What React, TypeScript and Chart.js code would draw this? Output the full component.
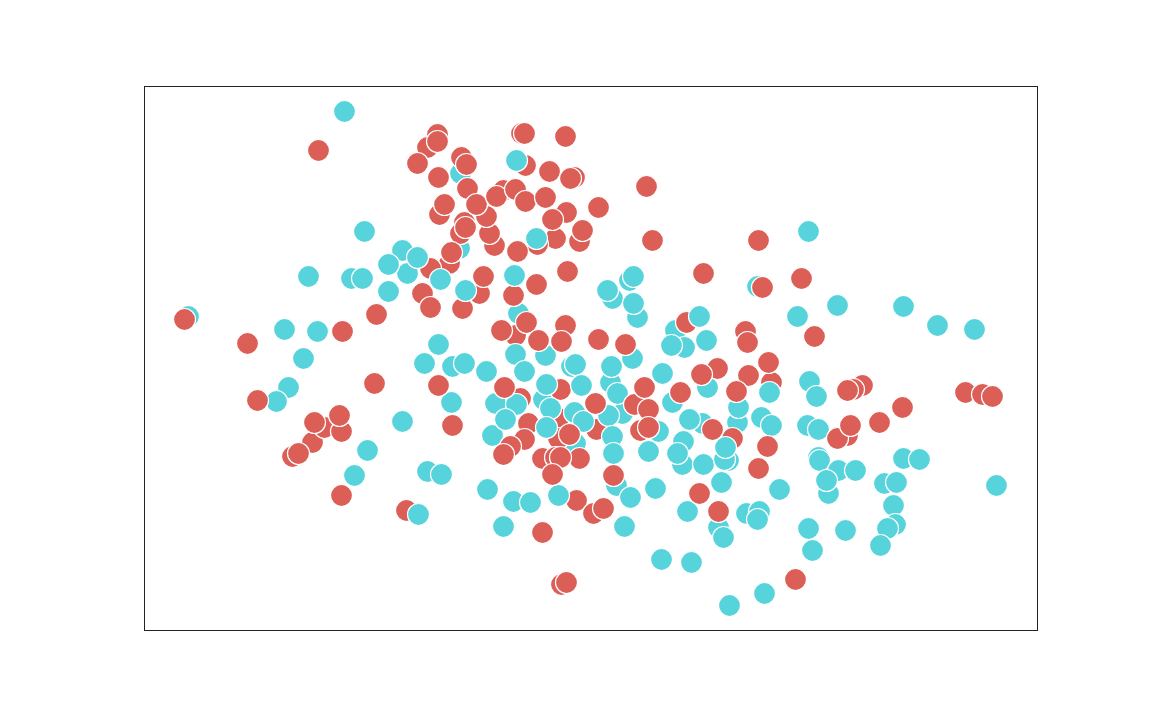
import React, { useEffect, useRef } from "react";
import { Chart, registerables } from "chart.js";

Chart.register(...registerables);

const RED = "#db5f57";
const CYAN = "#57d3db";

// Values are stacked back to front, in four layers.
const cyanBack: number[][] = [
  [188,316],[460,173],[459,248],[402,250],[407,273],[388,264],[518,313],[545,355],[632,358],[571,366],
  [610,382],[575,443],[616,485],[757,286],[718,527],[723,537],[707,387],[672,402],[737,422],[738,407],
  [675,330],[684,347],[702,423],[612,298],[629,280],[637,317],[809,381],[807,425],[818,457],[728,460],
  [746,513],[683,441],[682,464],[658,431],[543,399],[495,403],[622,413],[492,435],
];
const redBack: number[][] = [
  [437,134],[427,147],[461,157],[521,133],[525,165],[574,177],[503,190],[439,214],[566,212],[464,222],
  [460,233],[555,238],[579,241],[537,244],[449,263],[430,268],[422,293],[479,293],[513,295],[462,308],
  [515,335],[565,325],[520,398],[560,389],[528,423],[558,418],[596,429],[524,439],[558,438],[542,458],
  [555,457],[579,458],[406,510],[640,430],[745,331],[732,438],[771,382],[717,368],[862,385],[853,389],
  [847,435],[292,456],[312,442],[324,427],[341,431],[576,500],[593,513],[561,584],[686,322],
];
const cyanFront: number[][] = [
  [344,111],[364,231],[308,276],[351,278],[362,278],[388,291],[417,257],[440,279],[465,290],[284,329],
  [317,331],[303,358],[288,387],[276,401],[367,450],[354,475],[402,421],[427,471],[441,474],[418,514],
  [438,344],[424,363],[452,366],[464,363],[451,402],[516,160],[536,238],[514,275],[607,290],[633,276],
  [633,303],[515,354],[524,371],[486,371],[575,364],[611,366],[546,384],[581,385],[617,393],[516,404],
  [505,419],[550,408],[574,412],[583,421],[546,427],[608,415],[612,436],[613,453],[648,451],[630,497],
  [655,488],[487,489],[513,501],[530,502],[558,495],[503,526],[624,526],[661,559],[691,562],[729,605],
  [764,593],[662,373],[671,345],[699,316],[706,340],[769,392],[761,417],[771,425],[689,419],[677,453],
  [703,464],[724,459],[725,447],[721,482],[779,489],[687,511],[759,511],[757,519],[797,316],[837,305],
  [808,231],[903,306],[937,325],[974,329],[816,396],[818,429],[819,460],[838,470],[855,470],[828,493],
  [826,480],[808,528],[845,530],[812,550],[903,458],[919,459],[884,483],[896,482],[893,505],[895,524],
  [887,528],[880,545],[996,485],
];
const redFront: number[][] = [
  [184,319],[247,343],[257,400],[318,150],[342,331],[374,383],[376,314],[341,495],[298,453],[314,422],
  [339,415],[437,141],[417,163],[466,164],[438,177],[524,133],[565,136],[549,171],[570,178],[646,186],
  [467,188],[494,245],[489,233],[486,216],[476,204],[496,196],[515,189],[525,201],[545,197],[444,204],
  [465,227],[552,219],[598,207],[582,230],[517,251],[451,252],[652,240],[483,276],[536,284],[567,271],
  [430,307],[526,322],[501,330],[538,340],[561,341],[598,339],[625,344],[438,385],[452,425],[504,387],
  [595,403],[634,404],[644,387],[648,409],[648,427],[569,434],[510,446],[503,454],[560,457],[552,474],
  [613,475],[603,508],[542,532],[566,582],[795,579],[758,240],[703,273],[801,278],[762,287],[814,336],
  [747,342],[768,362],[748,375],[701,374],[680,392],[736,391],[712,429],[767,446],[758,468],[699,493],
  [718,511],[847,390],[837,438],[850,425],[879,422],[902,407],[965,392],[982,394],[992,396],
];

const layers = [
  { name: "cyan back", values: cyanBack, color: CYAN },
  { name: "red back", values: redBack, color: RED },
  { name: "cyan front", values: cyanFront, color: CYAN },
  { name: "red front", values: redFront, color: RED },
];

const framePlugin = {
  id: "frame",
  afterDraw(chart: Chart) {
    const { ctx, chartArea: a } = chart;
    ctx.save();
    ctx.strokeStyle = "#222222";
    ctx.lineWidth = 1;
    ctx.strokeRect(a.left + 0.5, a.top + 0.5, a.right - a.left, a.bottom - a.top);
    ctx.restore();
  },
};

export default function App() {
  const ref = useRef<HTMLCanvasElement>(null);
  useEffect(() => {
    const chart = new Chart(ref.current!, {
      type: "scatter",
      // Chart.js paints the first dataset last, so the front layer goes first.
      data: {
        datasets: [...layers].reverse().map((l) => ({
          label: l.name,
          data: l.values.map(([x, y]) => ({ x, y })),
          backgroundColor: l.color,
          borderColor: "#ffffff",
          borderWidth: 1.2,
          pointRadius: 11,
        })),
      },
      options: {
        animation: false,
        responsive: false,
        layout: { padding: { left: 144, right: 115, top: 86, bottom: 90 } },
        plugins: { legend: { display: false }, tooltip: { enabled: false } },
        scales: {
          x: { type: "linear", display: false, min: 143.5, max: 1036.5 },
          y: { type: "linear", display: false, min: 85.5, max: 629.5, reverse: true },
        },
      },
      plugins: [framePlugin],
    });
    return () => chart.destroy();
  }, []);
  return (
    <div style={{ position: "absolute", left: 0, top: 0 }}>
      <canvas ref={ref} width={1152} height={720} style={{ display: "block" }} />
    </div>
  );
}
